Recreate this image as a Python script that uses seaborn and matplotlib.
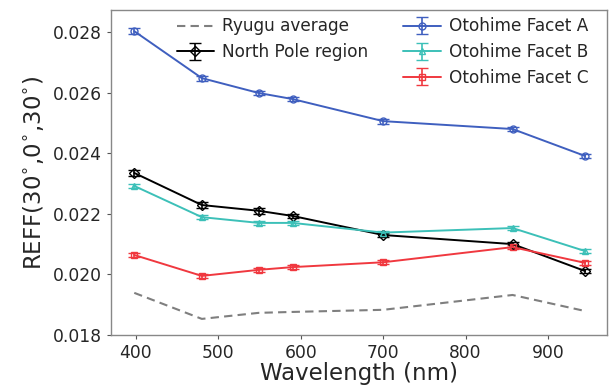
import numpy as np
import pandas as pd
import matplotlib
matplotlib.use("Agg")
import matplotlib.pyplot as plt
import seaborn as sns

wavelength = [398, 480, 549, 590, 700, 857, 945]
ryugu_avg = [0.01939, 0.01853, 0.01873, 0.01876, 0.01883, 0.01932, 0.01879]
north_pole = [0.02335, 0.02229, 0.02210, 0.02193, 0.02130, 0.02100, 0.02011]
north_pole_err = [0.00010, 0.00010, 0.00010, 0.00008, 0.00008, 0.00008, 0.00008]
facet_a = [0.02803, 0.02648, 0.02599, 0.02579, 0.02506, 0.02480, 0.02391]
facet_a_err = [0.00010, 0.00008, 0.00008, 0.00008, 0.00008, 0.00008, 0.00008]
facet_b = [0.02292, 0.02189, 0.02170, 0.02170, 0.02138, 0.02153, 0.02077]
facet_b_err = [0.00006, 0.00006, 0.00006, 0.00006, 0.00006, 0.00006, 0.00006]
facet_c = [0.02064, 0.01995, 0.02015, 0.02024, 0.02040, 0.02090, 0.02038]
facet_c_err = [0.00006, 0.00006, 0.00006, 0.00006, 0.00006, 0.00006, 0.00006]

sns.set_style("ticks")
plt.rcParams['font.family'] = ['DejaVu Sans']

fig = plt.figure(figsize=(6.11, 3.85), dpi=100)
ax = fig.add_axes([0.182, 0.130, 0.812, 0.844])

df = pd.DataFrame({"wl": wavelength, "avg": ryugu_avg})
sns.lineplot(data=df, x="wl", y="avg", ax=ax, color="#7f7f7f", lw=1.5,
             linestyle=(0, (4, 2.5)), label="Ryugu average", legend=False)

series = [
    ("North Pole region", north_pole, north_pole_err, "black", "D"),
    ("Otohime Facet A", facet_a, facet_a_err, "#3f5fbf", "o"),
    ("Otohime Facet B", facet_b, facet_b_err, "#3cc0b8", "^"),
    ("Otohime Facet C", facet_c, facet_c_err, "#f0383f", "s"),
]
handles = {}
for name, vals, err, col, mk in series:
    h = ax.errorbar(wavelength, vals, yerr=err, color=col, marker=mk, ms=5,
                    mfc="none", mew=1.0, lw=1.4, capsize=4, elinewidth=1.2,
                    capthick=1.2, label=name)
    handles[name] = h

ax.set_xlim(370, 972)
ax.set_ylim(0.018, 0.02873)
ax.set_xticks([400, 500, 600, 700, 800, 900])
ax.set_yticks([0.018, 0.020, 0.022, 0.024, 0.026, 0.028])
ax.yaxis.set_major_formatter(matplotlib.ticker.FormatStrFormatter('%.3f'))
ax.tick_params(axis='both', labelsize=12.3, direction='out', length=3,
               color='#555555', width=0.8)
for s in ax.spines.values():
    s.set_color('#888888')
    s.set_linewidth(1.0)
ax.set_xlabel("Wavelength (nm)", fontsize=16.5, labelpad=0)
ax.set_ylabel("REFF(30$^{\\circ}$,0$^{\\circ}$,30$^{\\circ}$)", fontsize=16.5, labelpad=5)

line_handle = ax.get_lines()[0]
leg_kw = dict(loc="upper left", frameon=False, fontsize=12.2, handlelength=2.2,
              labelspacing=0.45, handletextpad=0.5, borderaxespad=0.0)
leg1 = ax.legend([line_handle, handles["North Pole region"]],
                 ["Ryugu average", "North Pole region"],
                 bbox_to_anchor=(0.118, 0.998), **leg_kw)
ax.add_artist(leg1)
ax.legend([handles["Otohime Facet A"], handles["Otohime Facet B"], handles["Otohime Facet C"]],
          ["Otohime Facet A", "Otohime Facet B", "Otohime Facet C"],
          bbox_to_anchor=(0.575, 0.998), **leg_kw)

fig.savefig("out.png", dpi=100)
